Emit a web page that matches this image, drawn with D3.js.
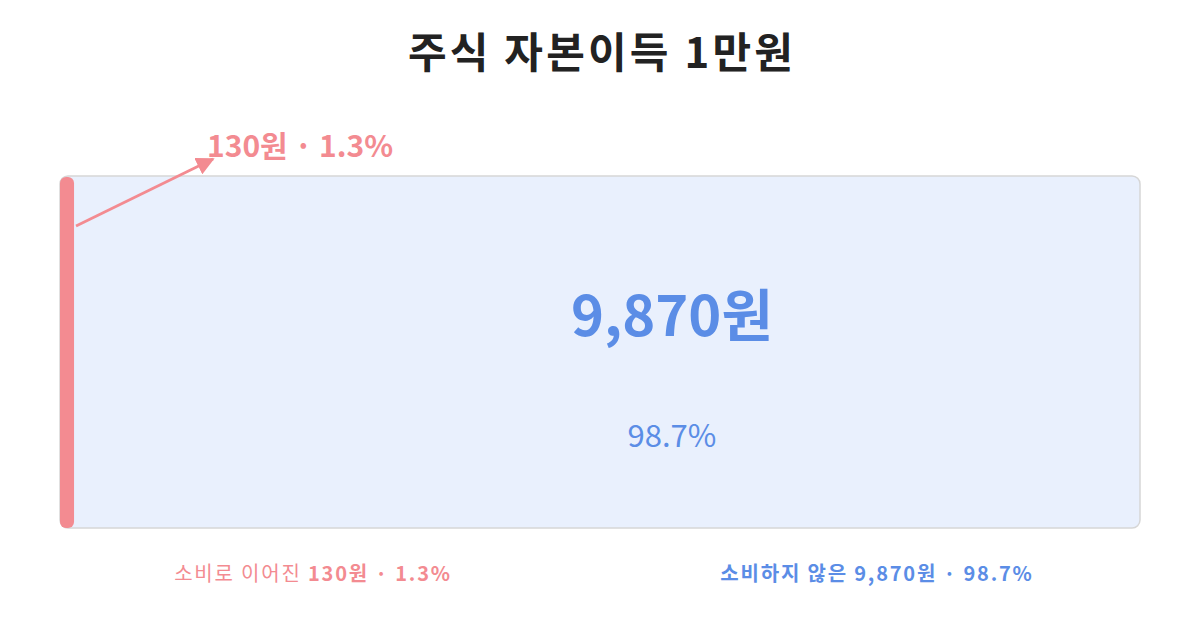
<!DOCTYPE html>
<html>
<head>
<meta charset="utf-8">
<script src="https://cdn.jsdelivr.net/npm/d3@7"></script>
<style>
  body { margin: 0; background: #fff; }
  svg { display: block; font-family: "Noto Sans CJK KR", "Noto Sans", sans-serif; }
</style>
</head>
<body>
<div id="chart"></div>
<script>
// Data
const title = "주식 자본이득 1만원";
const categories = ["소비로 이어진", "소비하지 않은"];
const values = [130, 9870];
const shares = ["1.3%", "98.7%"];
const colors = ["#f38b91", "#5b8de6"];

const width = 1200, height = 630;
const margin = { top: 176, right: 60, bottom: 102, left: 60 };
const total = d3.sum(values);
const fmt = d3.format(",");

const svg = d3.select("#chart").append("svg")
  .attr("width", width).attr("height", height);

// Title
svg.append("text")
  .attr("x", width / 2 + 2).attr("y", 68)
  .attr("text-anchor", "middle")
  .style("font-size", "42px").style("font-weight", "bold")
  .style("letter-spacing", "3.2px")
  .attr("fill", "#222")
  .text(title);

const scaleX = d3.scaleLinear([0, total], [margin.left, width - margin.right]);
const barTop = margin.top, barH = height - margin.top - margin.bottom;

// stacked offsets
const starts = values.map((v, i) => d3.sum(values.slice(0, i)));

// Track / unspent segment
svg.append("rect")
  .attr("x", scaleX(0)).attr("y", barTop)
  .attr("width", scaleX(total) - scaleX(0)).attr("height", barH)
  .attr("rx", 8)
  .attr("fill", "#e9f0fd")
  .attr("stroke", "#d6d6d6").attr("stroke-width", 1.5);

// Spent segment
svg.append("rect")
  .attr("x", scaleX(starts[0])).attr("y", barTop + 1)
  .attr("width", scaleX(values[0]) - scaleX(0)).attr("height", barH - 1)
  .attr("rx", 6)
  .attr("fill", colors[0]);

// Center label in big segment
const bigCx = 672;
svg.append("text")
  .attr("x", bigCx).attr("y", 336)
  .attr("text-anchor", "middle")
  .style("font-size", "56px").style("font-weight", "bold")
  .attr("fill", colors[1])
  .text(fmt(values[1]) + "원");

svg.append("text")
  .attr("x", bigCx).attr("y", 447)
  .attr("text-anchor", "middle")
  .style("font-size", "31px")
  .attr("fill", colors[1])
  .text(shares[1]);

// Annotation arrow for the thin segment
const defs = svg.append("defs");
defs.append("marker")
  .attr("id", "arrow")
  .attr("viewBox", "0 0 10 10")
  .attr("refX", 9).attr("refY", 5)
  .attr("markerWidth", 6.5).attr("markerHeight", 6.5)
  .attr("markerUnits", "strokeWidth")
  .attr("orient", "auto")
  .append("path")
  .attr("d", "M0,0 L10,5 L0,10 Z")
  .attr("fill", colors[0]);

const ax0 = scaleX(values[0]) + 2, ay0 = 226;
svg.append("line")
  .attr("x1", ax0).attr("y1", ay0)
  .attr("x2", 213).attr("y2", 159)
  .attr("stroke", colors[0]).attr("stroke-width", 2.8)
  .attr("marker-end", "url(#arrow)");

svg.append("text")
  .attr("x", 207).attr("y", 157)
  .style("font-size", "30px").style("font-weight", "bold")
  .attr("fill", colors[0])
  .text(fmt(values[0]) + "원 · " + shares[0]);

// Legend
const legendX = [313, 877];
const legend = svg.selectAll("text.legend")
  .data(categories)
  .join("text")
  .classed("legend", true)
  .attr("x", (d, i) => legendX[i]).attr("y", 581)
  .attr("text-anchor", "middle")
  .style("font-size", "20px")
  .style("letter-spacing", "1.8px")
  .attr("fill", (d, i) => colors[i]);

legend.append("tspan")
  .style("font-weight", (d, i) => i === 0 ? "normal" : "bold")
  .text(d => d + " ");
legend.append("tspan")
  .style("font-weight", "bold")
  .text((d, i) => fmt(values[i]) + "원 · " + shares[i]);
</script>
</body>
</html>
